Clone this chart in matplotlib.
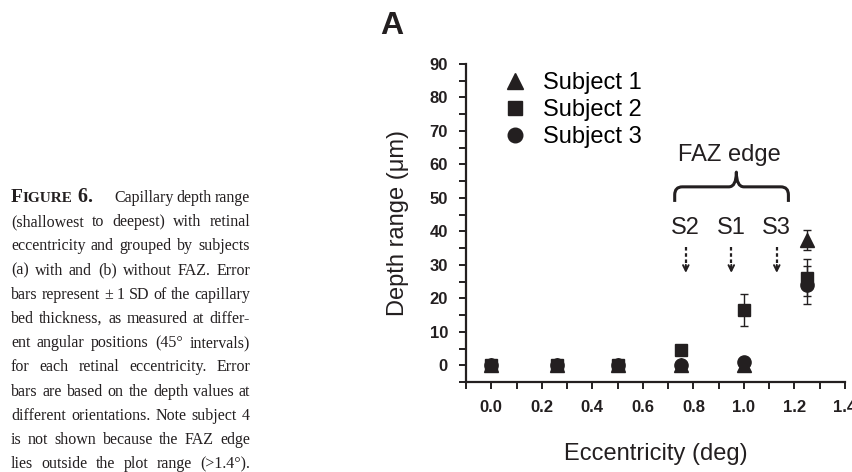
import numpy as np
import matplotlib
matplotlib.use("Agg")
import matplotlib.pyplot as plt
from matplotlib.path import Path
from matplotlib.patches import PathPatch
from matplotlib.lines import Line2D

# data
ecc = [0.0, 0.26, 0.5, 0.75, 1.0, 1.25]
subj1 = [0, 0, 0, 0, 0, 37.5]
subj1_sd = [0, 0, 0, 0, 0, 3.0]
subj2 = [0, 0, 0, 4.6, 16.5, 26.2]
subj2_sd = [0, 0, 0, 0.8, 4.9, 5.6]
subj3 = [0, 0, 0, 0, 1.0, 24.0]
subj3_sd = [0, 0, 0, 0, 0, 5.6]

faz_labels = ['S2', 'S1', 'S3']
faz_x = [0.77, 0.95, 1.13]

caption = [
    "(shallowest to deepest) with retinal",
    "eccentricity and grouped by subjects",
    "(a) with and (b) without FAZ. Error",
    "bars represent \u00b1 1 SD of the capillary",
    "bed thickness, as measured at differ-",
    "ent angular positions (45\u00b0 intervals)",
    "for each retinal eccentricity. Error",
    "bars are based on the depth values at",
    "different orientations. Note subject 4",
    "is not shown because the FAZ edge",
    "lies outside the plot range (>1.4\u00b0).",
]

ink = '#231f20'
W, H = 853, 472
fig = plt.figure(figsize=(W / 100, H / 100), dpi=100)
plt.rcParams['font.family'] = ['Liberation Sans', 'DejaVu Sans']

ax = fig.add_axes([466 / W, 1 - 382 / H, 379 / W, 318 / H])
ax.set_xlim(-0.1, 1.4)
ax.set_ylim(-5, 90)

series = [(subj1, subj1_sd, '^', 10, 'Subject 1'),
          (subj2, subj2_sd, 's', 8.5, 'Subject 2'),
          (subj3, subj3_sd, 'o', 9.5, 'Subject 3')]
handles = []
for vals, sd, m, ms, lab in series:
    ax.errorbar(ecc, vals, yerr=sd, fmt=m, ms=ms, color=ink, ecolor=ink,
                elinewidth=1, capsize=3, capthick=1, zorder=3)
    handles.append(Line2D([], [], marker=m, ms=ms + 1, ls='none', color=ink,
                          label=lab))

for s in ['top', 'right']:
    ax.spines[s].set_visible(False)
for s in ['left', 'bottom']:
    ax.spines[s].set_linewidth(1.6)
    ax.spines[s].set_color(ink)

xt = np.arange(-0.1, 1.41, 0.1)
ax.set_xticks(xt)
ax.set_xticklabels(['' if i % 2 == 0 else f'{v:.1f}' for i, v in enumerate(xt)])
ax.set_yticks(np.arange(-5, 91, 5))
ax.set_yticklabels(['' if v % 10 else str(v) for v in range(-5, 91, 5)])
ax.tick_params(direction='out', length=5, width=1.4, color=ink,
               labelsize=12, pad=8)
for t in ax.get_xticklabels() + ax.get_yticklabels():
    t.set_fontweight('bold')
    t.set_color(ink)

ax.set_xlabel('Eccentricity (deg)', fontsize=17, color=ink, labelpad=20)
ax.set_ylabel('Depth range (\u03bcm)', fontsize=17, color=ink, labelpad=15)

ax.legend(handles=handles, loc='upper left', bbox_to_anchor=(0.098, 0.975),
          frameon=False, fontsize=17, handletextpad=0.7, labelspacing=0.22,
          handlelength=1.0, borderaxespad=0, borderpad=0)

# FAZ edge brace and arrows
ax.text(0.944, 62.8, 'FAZ edge', ha='center', va='center', fontsize=17, color=ink)
x0, x1, xm = 0.726, 1.176, 0.97
yb, yh, yt = 48.8, 53.3, 57.7
dx, dy = 0.03, 2.4
verts = [(x0, yb), (x0, yh - dy), (x0, yh), (x0 + dx, yh), (xm - dx, yh),
         (xm, yh), (xm, yt), (xm, yh), (xm + dx, yh), (x1 - dx, yh),
         (x1, yh), (x1, yh - dy), (x1, yb)]
codes = [Path.MOVETO, Path.LINETO, Path.CURVE3, Path.CURVE3, Path.LINETO,
         Path.CURVE3, Path.CURVE3, Path.CURVE3, Path.CURVE3, Path.LINETO,
         Path.CURVE3, Path.CURVE3, Path.LINETO]
ax.add_patch(PathPatch(Path(verts, codes), fill=False, lw=2.2, color=ink,
                       capstyle='butt', joinstyle='round', clip_on=False))

for lab, x in zip(faz_labels, faz_x):
    ax.text(x, 41.1, lab, ha='center', va='center', fontsize=17, color=ink)
    ax.plot([x, x], [35.2, 28.6], ls=(0, (1.6, 1.2)), lw=1.6, color=ink)
    ax.annotate('', xy=(x, 27.6), xytext=(x, 30),
                arrowprops=dict(arrowstyle='->', lw=1.4, color=ink,
                                mutation_scale=10, shrinkA=0, shrinkB=0))

fig.text(392 / W, 1 - 26 / H, 'A', ha='center', va='center', fontsize=23,
         fontweight='bold', color=ink)

# caption, justified by hand
renderer = fig.canvas.get_renderer()
serif = ['Liberation Serif', 'DejaVu Serif']
cap_size = 11.5
left_px, right_px = 11, 250


def width_px(t):
    return t.get_window_extent(renderer).width


def put_words(words, y_px, xa, xb, size, min_gap=2.5):
    arts = [fig.text(0, 1 - y_px / H, w, fontsize=size, family=serif,
                     color=ink, va='baseline', ha='left') for w in words]
    ws = [width_px(a) for a in arts]
    total = sum(ws)
    room = xb - xa - min_gap * (len(words) - 1)
    if total > room:
        size = size * room / total
        for a in arts:
            a.set_fontsize(size)
        ws = [width_px(a) for a in arts]
        total = sum(ws)
    gap = (xb - xa - total) / max(len(words) - 1, 1)
    x = xa
    for a, w in zip(arts, ws):
        a.set_x(x / W)
        x += w + gap


y0 = 202
# small-caps heading
x = left_px
for part, sz in [('F', 14), ('IGURE', 11), (' 6.', 14.5)]:
    t = fig.text(x / W, 1 - y0 / H, part, fontsize=sz, family=serif,
                 fontweight='bold', color=ink, va='baseline', ha='left')
    x += width_px(t)
put_words("Capillary depth range".split(), y0, 114, right_px, cap_size)
for i, line in enumerate(caption):
    put_words(line.split(), y0 + 24.2 * (i + 1), left_px, right_px, cap_size)

fig.savefig('out.png', dpi=100)
